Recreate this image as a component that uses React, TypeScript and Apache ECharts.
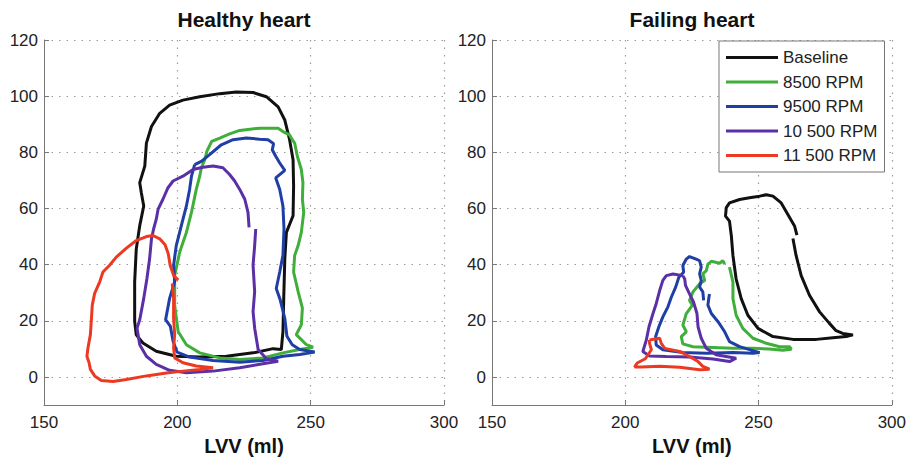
import { useEffect, useRef } from "react";
import * as echarts from "echarts";

const seriesNames = ["Baseline", "8500 RPM", "9500 RPM", "10 500 RPM", "11 500 RPM"];
const seriesColors = ["#111111", "#3fae3a", "#1f3ea6", "#5b30a6", "#ec3a22"];
const panelTitles = ["Healthy heart", "Failing heart"];
const xAxisName = "LVV (ml)";
const xRange = [150, 300];
const yRange = [-10, 120];

type Pt = [number, number];

const healthyBaseline: Pt[] = [
  [184, 19.8], [184.6, 15], [187.1, 12.1], [192.1, 9.2], [199.6, 7.4], [208.4, 7.1], [218.4, 7.4],
  [228.4, 8.6], [235.9, 10.1], [239, 9.8], [239.6, 16.2], [239.9, 28], [240.3, 42.1], [240.9, 51.5],
  [243.4, 57.4], [243.6, 68], [243.4, 77.4], [242.1, 84.5], [240.3, 91.5], [237.8, 96.2], [233.4, 99.8],
  [228.4, 101.3], [222.1, 101.5], [215.9, 100.9], [208.4, 99.8], [202.1, 98.6], [197.1, 96.8],
  [193.4, 93.9], [190.3, 89.2], [188.4, 83.3], [187.8, 75.1], [185.9, 69.2], [186.5, 65.6],
  [187.4, 60.9], [185.9, 53.9], [184.6, 45.6], [184, 33.9], [184, 19.8],
];
const healthy8500: Pt[] = [
  [208.4, 71.5], [207.1, 66.8], [205.3, 58.6], [203.4, 51.5], [200.9, 44.5], [199, 36.2], [199, 25.6],
  [200.3, 16.2], [203.4, 11.5], [208.4, 8.6], [215.9, 6.8], [223.4, 6.2], [232.1, 6.8], [239.6, 8.6],
  [245.9, 9.8], [250.9, 10.6], [248.4, 11.5], [246.5, 13.3], [244.6, 15.1], [246.5, 18.6], [246.9, 24.5],
  [245.3, 30.4], [243.6, 37.4], [244, 43.3], [245.3, 46.8], [246.5, 51.5], [247.4, 58.6], [246.9, 63.3],
  [247.1, 69.2], [246.5, 73.9], [245, 78.6], [244, 83.3], [243.1, 84.5], [242.1, 86.2], [239.6, 87.4],
  [237.8, 88.6], [230.9, 88.6], [223.4, 87.8], [219.6, 86.6], [215.9, 85.1], [212.9, 83.9], [211.1, 80.4],
  [210.3, 77.4], [209, 74.5], [208.4, 71.5],
];
const healthy9500: Pt[] = [
  [206.5, 75.6], [205.3, 71.5], [204.6, 66.8], [203.4, 60.9], [201.5, 53.9], [199.6, 46.8], [198.6, 39.8],
  [199, 33.9], [197.1, 28], [195.6, 20.4], [197.4, 18], [198.4, 12.7], [199.9, 8.9], [204.6, 7.1],
  [213.4, 5.9], [223.4, 5.3], [232.1, 5.9], [239.6, 7.4], [245.9, 8], [251.5, 8.9], [245.9, 9.8],
  [243.1, 11.5], [241.1, 14.5], [240.3, 20.9], [238.6, 27.4], [237.1, 31.5], [238.4, 37.4], [239.6, 43.3],
  [240, 52.7], [239.6, 60.9], [238.4, 66.8], [236.9, 70.9], [240.3, 73.6], [238.4, 76.2], [236.9, 78.6],
  [235.6, 80.9], [236.1, 83.1], [234, 84.5], [230.9, 84.7], [225.9, 85.1], [220.9, 84.5], [216.5, 82.7],
  [212.1, 79.2], [209, 76.8], [206.5, 75.6],
];
const healthy10500: Pt[] = [
  [226.9, 53.3], [226.5, 58.6], [225.3, 63.3], [223.4, 66.8], [221.5, 69.8], [219.6, 72.1], [217.1, 74.5],
  [213.4, 75.1], [209.6, 74.7], [205.9, 73.9], [202.1, 71.5], [198.4, 69.8], [196.5, 67.4], [194.6, 63.3],
  [192.8, 59.8], [192.1, 56.2], [191.1, 52.7], [190.3, 49.2], [189.6, 42.1], [188.6, 35.1], [187.4, 28],
  [185.9, 20.4], [184.9, 17.4], [185.9, 11.5], [188.4, 7.4], [192.1, 4.5], [197.1, 2.4], [203.4, 1.5],
  [213.4, 2.1], [223.4, 3.3], [232.1, 4.7], [237.8, 5.6], [233.4, 6.5], [230.3, 9.8], [229, 17.4],
  [228.4, 23.3], [229, 30.4], [228.4, 39.8], [229, 46.8], [229.4, 52.7],
];
const healthy11500: Pt[] = [
  [198.1, 33.3], [198.6, 28], [198.6, 20.9], [199, 15.1], [198.6, 10.4], [199, 6.8], [202.1, 5.1],
  [207.1, 3.9], [213.4, 3.3], [208.4, 2.7], [202.1, 2.1], [195.9, 1.4], [188.4, 0.4], [180.9, -0.9],
  [175.9, -1.6], [171.5, -1.2], [169, 0.4], [167.4, 2.7], [166.9, 5.1], [166.1, 7.4], [166.5, 10.4],
  [167.4, 15.1], [167.8, 20.9], [168.1, 25.6], [169, 29.8], [170.9, 33.9], [172.1, 37.4], [174.6, 39.8],
  [177.1, 42.7], [180.9, 45.9], [184.6, 48.6], [188.4, 50], [190.9, 50.4], [193.4, 49.2], [195.4, 47.1],
  [196.6, 43.9], [197.3, 39.8], [198.6, 36.2], [200.3, 34.5],
];

const failingBaseline: Pt[] = [
  [264.4, 50.5], [263.5, 53.8], [261, 57.9], [258.5, 62], [255.4, 64.4], [252.9, 64.9], [250.4, 64.4],
  [246.6, 63.8], [242.9, 63.2], [239.1, 62], [237.9, 60.3], [237.6, 57.3], [239.1, 55.5], [239.8, 50.2],
  [240.4, 43.2], [241.6, 34.9], [243.5, 27.9], [246, 22], [249.8, 17.3], [255.4, 14.4], [262.9, 13.4],
  [271.7, 13.4], [277.9, 14], [282.9, 14.4], [285.4, 15], [281.6, 15.5], [279.1, 16.5], [276.6, 19.1],
  [272.9, 23.2], [269.1, 29.1], [266, 36.1], [264.1, 43.2], [262.9, 49.3],
];
const failing8500: Pt[] = [
  [239.1, 39.1], [240.4, 33.8], [240.4, 27.9], [241.6, 22], [244.1, 17.3], [247.9, 13.8], [252.9, 12],
  [257.9, 10.8], [261.6, 10.8], [262.3, 9.9], [259.1, 9.5], [254, 10], [247.9, 10.2], [240.4, 10.2],
  [232.9, 10.5], [225.4, 10.8], [221.6, 11.8], [221, 14.4], [222.9, 16.1], [221.6, 18.5], [222.9, 22.6],
  [225.2, 25.6], [224.1, 27.3], [225.4, 30.3], [227.9, 33.2], [229.8, 34.4], [229.1, 36.7], [230.4, 37.9],
  [231, 40.2], [232.3, 41.2], [235.4, 40.5], [236.6, 41.4], [237.3, 40.2],
];
const failing9500: Pt[] = [
  [229.4, 27.3], [229.1, 30.3], [227.9, 32], [228.5, 34.4], [227.9, 36.7], [228.5, 39.1], [227.9, 41.4],
  [226.6, 42], [224.1, 42.9], [222.9, 42], [221.6, 39.7], [221.9, 37.3], [220.1, 35.5], [218.9, 32],
  [217.3, 28.5], [216, 25], [214.1, 21.4], [212.6, 17.9], [211.4, 14.4], [211.6, 11.4], [214.1, 9.7],
  [221.6, 8.7], [230.4, 8.5], [240.4, 8.7], [247.9, 8.5], [250.4, 8.7], [242.9, 10.8], [239.1, 12.6],
  [237.3, 16.1], [234.8, 19.7], [232.3, 22.6], [231, 25.6], [231.4, 28.5], [231.6, 29.6],
];
const failing10500: Pt[] = [
  [221.6, 36.1], [217.9, 36.7], [215.4, 36.1], [214.1, 34.4], [212.9, 30.8], [211.6, 26.1], [210.4, 22.6],
  [208.9, 17.9], [207.9, 13.2], [206.6, 9.1], [209.1, 7.5], [215.4, 7.3], [224.1, 7.1], [232.9, 6.4],
  [239.1, 5.5], [241.6, 6.7], [234.1, 7.9], [230.4, 10.2], [228.5, 13.8], [227.3, 17.9], [226.9, 22.6],
  [225.6, 26.7], [224.1, 29.6], [222.6, 32.6], [222.3, 34.9], [221.6, 36.1],
];
const failing11500: Pt[] = [
  [209.1, 13.2], [212.9, 13.8], [213.5, 12], [214.8, 10.2], [220.4, 9.1], [224.1, 7.3], [227.3, 5.5],
  [229.1, 3.8], [231.6, 2.8], [227.9, 2.6], [220.4, 3.5], [212.9, 3.8], [206, 3.6], [203.5, 3.6],
  [204.5, 5], [207.5, 6.5], [209.8, 9.7], [209.1, 12], [209.1, 13.2],
];

const panels: Pt[][][] = [
  [healthyBaseline, healthy8500, healthy9500, healthy10500, healthy11500],
  [failingBaseline, failing8500, failing9500, failing10500, failing11500],
];

export default function App() {
  const ref = useRef<HTMLDivElement>(null);
  useEffect(() => {
    document.body.style.margin = "0";
    const chart = echarts.init(ref.current!, null, { renderer: "svg" });
    const font = "'Liberation Sans', Arial, Helvetica, sans-serif";
    const grids = [
      { left: 44, top: 40, width: 400, height: 369 },
      { left: 492, top: 40, width: 400, height: 369 },
    ];
    const gridLine = { color: "#9c9c9c", type: [1.5, 6] as number[], width: 1.2 };
    const xAxis = grids.map((_, i) => ({
      type: "value",
      gridIndex: i,
      min: xRange[0],
      max: xRange[1],
      interval: 50,
      name: xAxisName,
      nameLocation: "middle",
      nameGap: 28,
      nameTextStyle: { fontFamily: font, fontSize: 20, fontWeight: "bold", color: "#111" },
      axisLine: { onZero: false, lineStyle: { color: "#777", width: 1 } },
      axisTick: { inside: true, length: 5, lineStyle: { color: "#777" } },
      axisLabel: { fontFamily: font, fontSize: 17, color: "#222", margin: 9 },
      splitLine: { show: true, showMinLine: false, lineStyle: gridLine },
    }));
    const yAxis = grids.map((_, i) => ({
      type: "value",
      gridIndex: i,
      min: yRange[0],
      max: yRange[1],
      splitNumber: 6,
      minInterval: 20,
      maxInterval: 20,
      axisLine: { onZero: false, lineStyle: { color: "#777", width: 1 } },
      axisTick: { inside: true, length: 5, lineStyle: { color: "#777" } },
      axisLabel: {
        fontFamily: font,
        fontSize: 17,
        color: "#222",
        margin: 6,
        formatter: (v: number) => (v < 0 ? "" : String(v)),
      },
      splitLine: { show: true, showMinLine: false, lineStyle: gridLine },
    }));
    const series = panels.flatMap((loops, gi) =>
      loops.map((data, si) => ({
        type: "line",
        name: seriesNames[si],
        xAxisIndex: gi,
        yAxisIndex: gi,
        data,
        symbol: "none",
        showSymbol: false,
        smooth: false,
        lineStyle: { color: seriesColors[si], width: 3 },
        itemStyle: { color: seriesColors[si] },
        z: 2 + si,
      }))
    );
    chart.setOption({
      animation: false,
      backgroundColor: "#ffffff",
      grid: grids,
      xAxis,
      yAxis,
      series,
      legend: {
        data: seriesNames,
        orient: "vertical",
        left: 719,
        top: 41,
        icon: "path://M0,0 L52,0 L52,3.2 L0,3.2 Z",
        itemWidth: 52,
        itemHeight: 17,
        itemGap: 7.5,
        padding: [8, 7, 8, 7],
        borderColor: "#777",
        borderWidth: 1,
        backgroundColor: "#ffffff",
        textStyle: { fontFamily: font, fontSize: 17, color: "#222" },
      },
      graphic: panelTitles.map((t, i) => ({
        type: "text",
        x: grids[i].left + grids[i].width / 2,
        y: 19,
        style: {
          text: t,
          fontFamily: font,
          fontSize: 21,
          fontWeight: "bold",
          fill: "#111",
          align: "center",
          verticalAlign: "middle",
        },
      })),
    });
    return () => chart.dispose();
  }, []);
  return <div ref={ref} style={{ width: 909, height: 461 }} />;
}
